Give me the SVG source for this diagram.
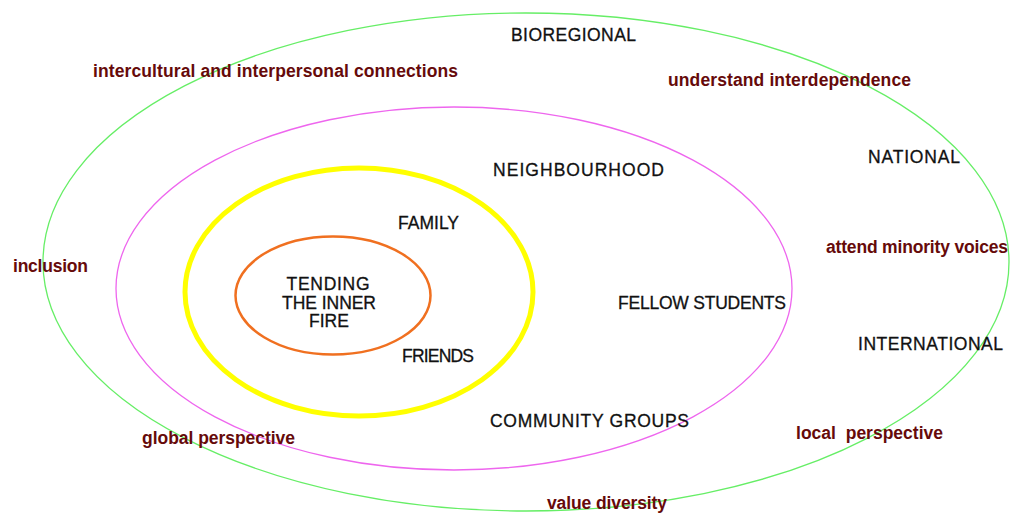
<svg xmlns="http://www.w3.org/2000/svg" width="1011" height="514" viewBox="0 0 1011 514">
<style>
.ring{fill:none}
.lbl{font-family:"Liberation Sans",Arial,sans-serif;font-size:17.5px;fill:#111;text-anchor:middle;stroke:#111;stroke-width:0.3}
.val{font-family:"Liberation Sans",Arial,sans-serif;font-size:17.5px;font-weight:bold;fill:#660a0a;text-anchor:middle}
</style>
<rect width="1011" height="514" fill="#fff"/>
<g id="rings">
<ellipse id="ring-bioregional" class="ring" cx="526" cy="262" rx="483" ry="249" stroke="#66ee66" stroke-width="1.3"/>
<ellipse id="ring-neighbourhood" class="ring" cx="454" cy="288.5" rx="338" ry="181.5" stroke="#ee66ee" stroke-width="1.3"/>
<ellipse id="ring-family" class="ring" cx="359" cy="292" rx="174" ry="124" stroke="#ffff00" stroke-width="5"/>
<ellipse id="ring-core" class="ring" cx="333" cy="295.5" rx="97.5" ry="59" stroke="#f07020" stroke-width="2.5"/>
</g>
<g id="core">
<text class="lbl" x="328" y="290" textLength="83">TENDING</text>
<text class="lbl" x="329" y="308.5" textLength="94">THE INNER</text>
<text class="lbl" x="329" y="327">FIRE</text>
</g>
<g id="family">
<text class="lbl" x="428.5" y="229" textLength="61">FAMILY</text>
<text class="lbl" x="438" y="362" textLength="72">FRIENDS</text>
</g>
<g id="neighbourhood">
<text class="lbl" x="578.5" y="176" textLength="171">NEIGHBOURHOOD</text>
<text class="lbl" x="702" y="309" textLength="168">FELLOW STUDENTS</text>
<text class="lbl" x="589.5" y="427" textLength="199">COMMUNITY GROUPS</text>
</g>
<g id="bioregional">
<text class="lbl" x="573.5" y="41" textLength="125">BIOREGIONAL</text>
<text class="lbl" x="914" y="163" textLength="92">NATIONAL</text>
<text class="lbl" x="930.5" y="350" textLength="145">INTERNATIONAL</text>
</g>
<g id="values">
<text class="val" x="275.5" y="77" textLength="365">intercultural and interpersonal connections</text>
<text class="val" x="789.5" y="86" textLength="243">understand interdependence</text>
<text class="val" x="50.5" y="272" textLength="75">inclusion</text>
<text class="val" x="826" y="253" style="text-anchor:start" textLength="182">attend minority voices</text>
<text class="val" x="218.5" y="444" textLength="153">global perspective</text>
<text class="val" x="869.5" y="439" textLength="147" xml:space="preserve">local  perspective</text>
<text class="val" x="607" y="509" textLength="120">value diversity</text>
</g>
</svg>
